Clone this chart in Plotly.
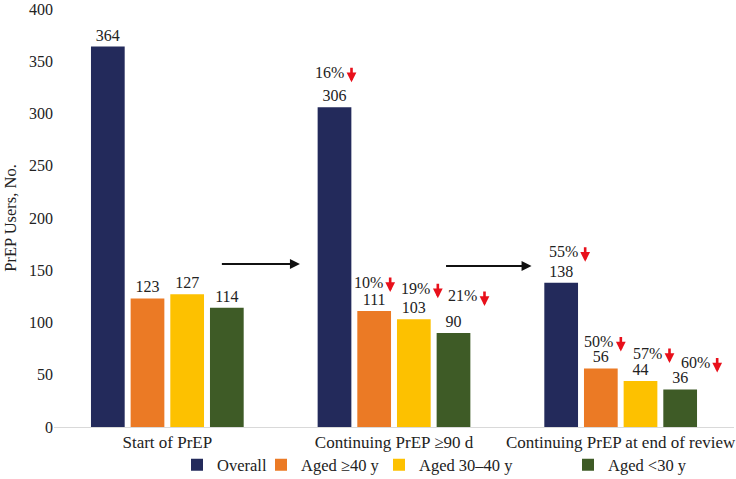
import plotly.graph_objects as go

categories = ["Start of PrEP", "Continuing PrEP ≥90 d", "Continuing PrEP at end of review"]
series_names = ["Overall", "Aged ≥40 y", "Aged 30–40 y", "Aged <30 y"]
overall = [364, 306, 138]
aged_40_plus = [123, 111, 56]
aged_30_40 = [127, 103, 44]
aged_under_30 = [114, 90, 36]
# percentage decline labels (group index, series index, label)
decline_labels = [
    (1, 0, "16%"), (1, 1, "10%"), (1, 2, "19%"), (1, 3, "21%"),
    (2, 0, "55%"), (2, 1, "50%"), (2, 2, "57%"), (2, 3, "60%"),
]
y_ticks = [0, 50, 100, 150, 200, 250, 300, 350, 400]

colors = ["#232A5B", "#EB7A25", "#FDC100", "#3E5B26"]
series_values = [overall, aged_40_plus, aged_30_40, aged_under_30]
FONT = "Liberation Serif"
TXT = "#222222"

fig = go.Figure()
legend_ids = ["legend", "legend2", "legend3", "legend4"]
for i, (name, vals) in enumerate(zip(series_names, series_values)):
    fig.add_trace(go.Bar(
        x=categories, y=vals, name=name,
        marker=dict(color=colors[i], line=dict(width=0)),
        text=[str(v) for v in vals], textposition="outside",
        textfont=dict(family=FONT, size=16, color=TXT),
        cliponaxis=False, legend=legend_ids[i], showlegend=True,
    ))

bargap = 0.30
bargroupgap = 0.15
slot = (1 - bargap) / 4
offsets = [(-1.5 + k) * slot for k in range(4)]

# style tweaks (pixel) for percentage labels: (dx, dy above bar top)
label_shift = {
    (1, 0): (-5, 35), (1, 1): (-6, 29), (1, 2): (2, 31), (1, 3): (9, 37),
    (2, 0): (2, 31), (2, 1): (-2, 27), (2, 2): (7, 28), (2, 3): (15, 27),
}
annotations = []
for g, s, lab in decline_labels:
    xv = g + offsets[s]
    yv = series_values[s][g]
    dx, dy = label_shift[(g, s)]
    annotations.append(dict(
        x=xv, y=yv, xref="x", yref="y", text=lab, showarrow=False,
        xshift=dx, yshift=dy, font=dict(family=FONT, size=16, color=TXT),
    ))
    # red down arrow to the right of the label
    annotations.append(dict(
        x=xv, y=yv, xref="x", yref="y", text="", showarrow=True,
        xshift=dx + 22, yshift=dy - 10, ax=0, ay=-16,
        arrowhead=2, arrowsize=0.75, arrowwidth=2.6, arrowcolor="#E8101B",
    ))

# black flow arrows between groups
for g0, y_arrow in [(0, 156), (1, 154)]:
    annotations.append(dict(
        x=g0 + 0.585 if g0 == 0 else g0 + 0.607, y=y_arrow,
        ax=g0 + 0.234 if g0 == 0 else g0 + 0.223, ay=y_arrow,
        xref="x", yref="y", axref="x", ayref="y", text="", showarrow=True,
        arrowhead=2, arrowsize=1, arrowwidth=2, arrowcolor="#111111",
    ))

legend_x = [177 / 736, 261 / 736, 379 / 736, 568 / 736]
legend_layout = {}
for lid, lx in zip(legend_ids, legend_x):
    legend_layout[lid] = dict(
        x=lx, y=1 - 465 / 479, xref="container", yref="container",
        xanchor="left", yanchor="middle", orientation="h",
        bgcolor="rgba(0,0,0,0)", font=dict(family=FONT, size=16.5, color=TXT),
        itemwidth=30,
    )

fig.update_layout(
    width=736, height=479,
    margin=dict(l=54, r=2, t=9, b=52),
    paper_bgcolor="white", plot_bgcolor="white",
    barmode="group", bargap=bargap, bargroupgap=bargroupgap,
    font=dict(family=FONT, size=16, color=TXT),
    showlegend=True,
    annotations=annotations,
    **legend_layout,
)
fig.update_xaxes(
    type="category", showgrid=False, showline=True, linecolor="#D9D9D9", linewidth=1,
    ticks="", tickfont=dict(family=FONT, size=17, color=TXT), automargin=False,
)
fig.update_yaxes(
    range=[0, 400], tickvals=y_ticks, showgrid=False, showline=False, zeroline=False,
    tickfont=dict(family=FONT, size=16, color=TXT), automargin=False,
    title=dict(text="PrEP Users, No.", font=dict(family=FONT, size=16.5, color=TXT), standoff=8),
)

fig.write_html("out.html", config={"displayModeBar": False},
               post_script="document.body.style.margin='0';")
